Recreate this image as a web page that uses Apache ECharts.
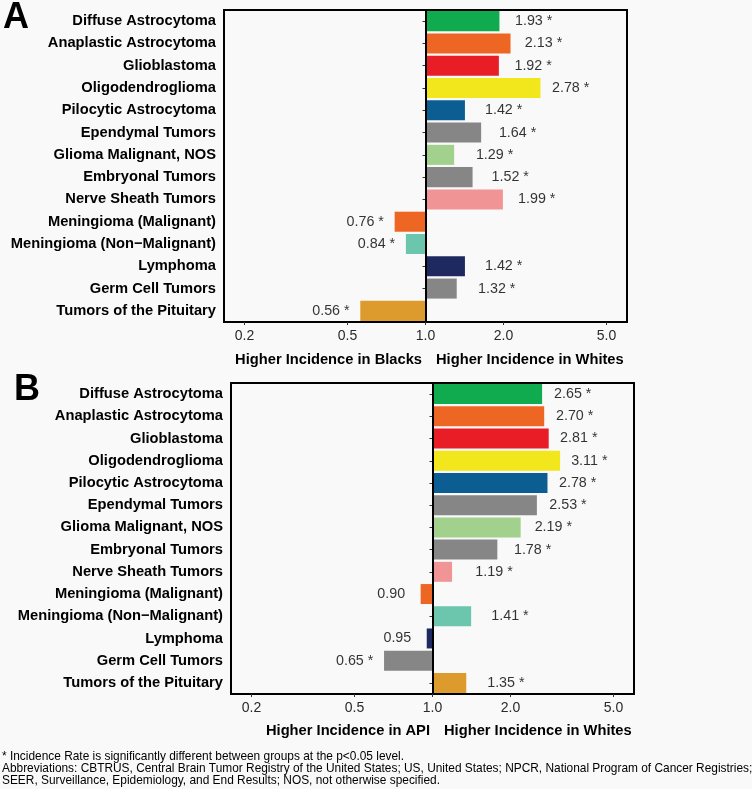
<!DOCTYPE html>
<html>
<head>
<meta charset="utf-8">
<script src="https://cdn.jsdelivr.net/npm/echarts@6/dist/echarts.min.js"></script>
<style>
  html, body { margin: 0; padding: 0; background: #f9f9f9; }
  #chart { width: 752px; height: 789px; }
</style>
</head>
<body>
<div id="chart"></div>
<script>
// ---------- data ----------
const categories = [
  'Diffuse Astrocytoma', 'Anaplastic Astrocytoma', 'Glioblastoma', 'Oligodendroglioma',
  'Pilocytic Astrocytoma', 'Ependymal Tumors', 'Glioma Malignant, NOS', 'Embryonal Tumors',
  'Nerve Sheath Tumors', 'Meningioma (Malignant)', 'Meningioma (Non\u2212Malignant)',
  'Lymphoma', 'Germ Cell Tumors', 'Tumors of the Pituitary'
];
const barColors = [
  '#10ab4f', '#ee6624', '#e81d25', '#f2e61c', '#0c5e92', '#868686', '#a2d08d',
  '#868686', '#f19496', '#ee6624', '#6cc5ad', '#1e2a5f', '#868686', '#dc9b2c'
];
const valuesA = [1.93, 2.13, 1.92, 2.78, 1.42, 1.64, 1.29, 1.52, 1.99, 0.76, 0.84, 1.42, 1.32, 0.56];
const signifA = [true, true, true, true, true, true, true, true, true, true, true, true, true, true];
const valuesB = [2.65, 2.70, 2.81, 3.11, 2.78, 2.53, 2.19, 1.78, 1.19, 0.90, 1.41, 0.95, 0.65, 1.35];
const signifB = [true, true, true, true, true, true, true, true, true, false, true, false, true, true];
const tickValues = [0.2, 0.5, 1.0, 2.0, 5.0];
const axisRange = [1 / 6, 6];
const axisTitlesA = ['Higher Incidence in Blacks', 'Higher Incidence in Whites'];
const axisTitlesB = ['Higher Incidence in API', 'Higher Incidence in Whites'];
const footnote = [
  '* Incidence Rate is significantly different between groups at the p<0.05 level.',
  'Abbreviations: CBTRUS, Central Brain Tumor Registry of the United States; US, United States; NPCR, National Program of Cancer Registries;',
  'SEER, Surveillance, Epidemiology, and End Results; NOS, not otherwise specified.'
];

// ---------- helpers ----------
const lg = Math.log10;
const FONT = '"Liberation Sans", Arial, Helvetica, sans-serif';
function labelAnchor(v) { return v >= 1 ? 1.2 * v + 0.3 : 0.77 * v; }
function labelText(v, s) { return v.toFixed(2) + (s ? ' *' : ''); }

function xAxisFor(gi) {
  return {
    type: 'value', gridIndex: gi,
    min: lg(axisRange[0]), max: lg(axisRange[1]),
    axisLine: { show: false },
    splitLine: { show: false },
    axisTick: { show: true, length: 3, customValues: tickValues.map(lg), lineStyle: { color: '#333', width: 1 } },
    axisLabel: {
      customValues: tickValues.map(lg), margin: 7,
      formatter: v => Math.pow(10, v).toFixed(1),
      fontSize: 14, color: '#2a2a2a', fontFamily: FONT
    }
  };
}
function yAxisFor(gi) {
  return {
    type: 'category', gridIndex: gi, data: categories, inverse: true,
    axisLine: { show: false },
    axisTick: { show: true, length: 3, alignWithLabel: true, lineStyle: { color: '#333' } },
    axisLabel: { fontSize: 14.7, fontWeight: 'bold', color: '#000', margin: 8, fontFamily: FONT }
  };
}
function barSeries(gi, values) {
  return {
    type: 'bar', xAxisIndex: gi, yAxisIndex: gi,
    barWidth: '90%',
    data: values.map((v, i) => ({ value: lg(v), itemStyle: { color: barColors[i] } })),
    markLine: {
      silent: true, symbol: ['none', 'none'], animation: false,
      label: { show: false },
      lineStyle: { color: '#000', width: 2, type: 'solid' },
      data: [{ xAxis: 0 }]
    }
  };
}
function labelSeries(gi, values, signif) {
  return {
    type: 'scatter', xAxisIndex: gi, yAxisIndex: gi,
    symbolSize: 1, itemStyle: { color: 'rgba(0,0,0,0)' },
    data: values.map((v, i) => [lg(labelAnchor(v)), categories[i]]),
    label: {
      show: true, position: 'inside',
      formatter: p => labelText(values[p.dataIndex], signif[p.dataIndex]),
      fontSize: 14.3, color: '#000', fontFamily: FONT
    },
    z: 5
  };
}
function txt(x, y, text, align, size, weight) {
  return {
    type: 'text', x: x, y: y,
    style: { text: text, fill: '#000', font: (weight || 'bold') + ' ' + size + 'px ' + FONT,
             textAlign: align, textVerticalAlign: 'middle' }
  };
}

const chart = echarts.init(document.getElementById('chart'));
chart.setOption({
  backgroundColor: '#f9f9f9',
  animation: false,
  grid: [
    { left: 224, top: 10, width: 403, height: 312, show: true, borderColor: '#000', borderWidth: 2, backgroundColor: 'transparent' },
    { left: 231, top: 383, width: 403, height: 311, show: true, borderColor: '#000', borderWidth: 2, backgroundColor: 'transparent' }
  ],
  xAxis: [xAxisFor(0), xAxisFor(1)],
  yAxis: [yAxisFor(0), yAxisFor(1)],
  series: [
    barSeries(0, valuesA), labelSeries(0, valuesA, signifA),
    barSeries(1, valuesB), labelSeries(1, valuesB, signifB)
  ],
  graphic: [
    txt(3, 18, 'A', 'left', 36, 'bold'),
    txt(14, 390, 'B', 'left', 36, 'bold'),
    txt(422, 360, axisTitlesA[0], 'right', 14.7),
    txt(436, 360, axisTitlesA[1], 'left', 14.7),
    txt(430, 731, axisTitlesB[0], 'right', 14.7),
    txt(444, 731, axisTitlesB[1], 'left', 14.7),
    txt(2, 757, footnote[0], 'left', 11.9, 'normal'),
    txt(2, 769, footnote[1], 'left', 11.9, 'normal'),
    txt(2, 781, footnote[2], 'left', 11.9, 'normal')
  ]
});
</script>
</body>
</html>
